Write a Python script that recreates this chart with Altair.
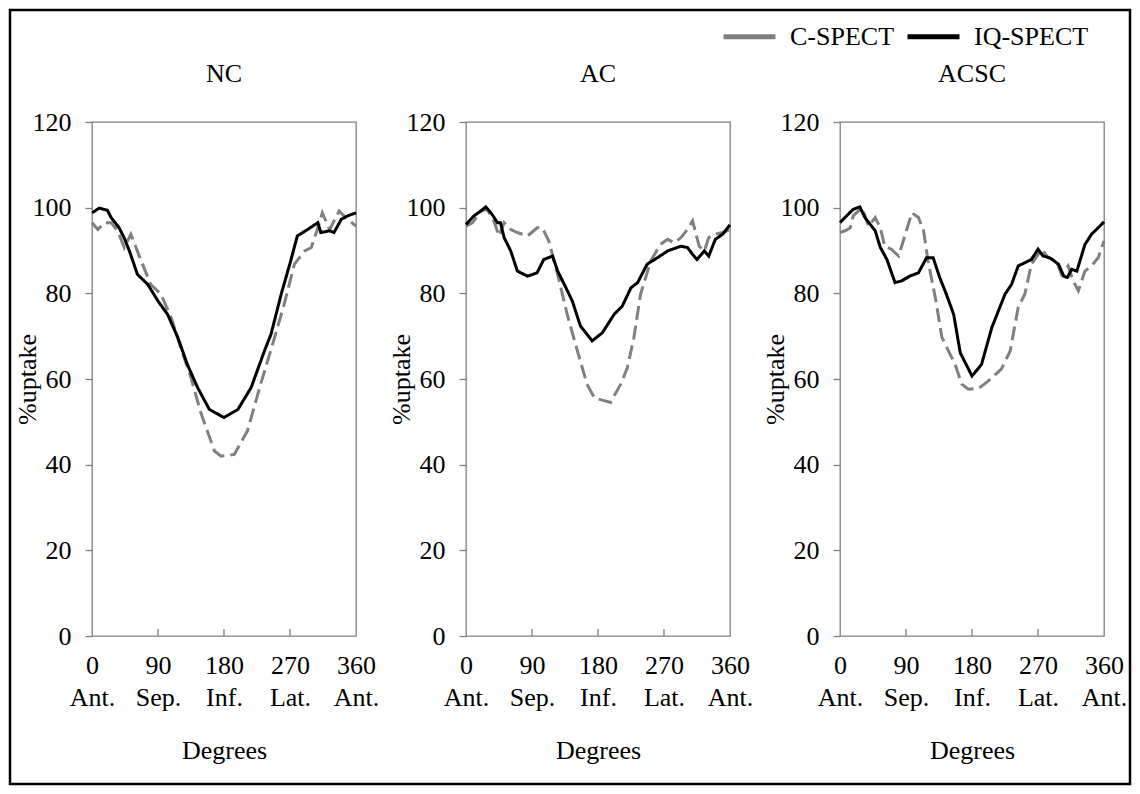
import json
import altair as alt
import pandas as pd

FONT = "Liberation Serif"
series_names = ["C-SPECT", "IQ-SPECT"]
series_colors = ["#808080", "#000000"]
panel_names = ["NC", "AC", "ACSC"]
x_ticks = [0, 90, 180, 270, 360]
x_regions = ["Ant.", "Sep.", "Inf.", "Lat.", "Ant."]
y_ticks = [0, 20, 40, 60, 80, 100, 120]
inner_ticks = [90, 180, 270]

# NC
nc_iq_deg = [0, 10, 21, 26, 37, 44, 51, 62, 76, 90, 103, 117, 130, 144, 160, 180, 199, 217, 235, 244, 258, 271, 280, 294, 308, 312, 324, 330, 340, 349, 360]
nc_iq_val = [98.8, 99.9, 99.4, 97.7, 95.3, 92.9, 89.9, 84.4, 82.1, 78.2, 75.1, 69.7, 63.4, 58.0, 52.9, 51.0, 52.9, 58.0, 66.5, 70.4, 79.8, 87.6, 93.4, 94.9, 96.5, 94.2, 94.6, 94.2, 97.3, 98.1, 98.8]
nc_c_deg = [0, 8, 17, 26, 35, 44, 53, 67, 80, 94, 108, 121, 135, 149, 167, 176, 194, 212, 230, 249, 262, 276, 290, 299, 308, 314, 324, 330, 337, 346, 360]
nc_c_val = [96.5, 94.9, 96.5, 96.5, 94.6, 90.7, 93.8, 87.6, 82.1, 79.8, 74.3, 67.3, 60.3, 51.8, 43.2, 42.0, 42.4, 47.9, 58.8, 69.7, 77.4, 86.8, 89.9, 90.7, 95.3, 98.8, 94.9, 96.9, 99.2, 97.7, 95.7]

# AC
ac_iq_deg = [0, 11, 20, 27, 34, 43, 47, 52, 61, 70, 84, 97, 106, 118, 125, 134, 145, 156, 172, 186, 202, 213, 225, 234, 247, 261, 275, 293, 302, 309, 315, 325, 331, 340, 350, 360]
ac_iq_val = [96.1, 98.1, 99.2, 100.2, 98.8, 96.5, 96.5, 93.0, 89.9, 85.2, 84.0, 84.8, 87.9, 88.7, 85.2, 82.1, 78.2, 72.4, 68.9, 70.8, 75.1, 77.0, 81.3, 82.5, 86.8, 88.3, 89.9, 91.0, 90.7, 89.1, 87.9, 89.9, 88.7, 92.6, 93.8, 96.0]
ac_c_deg = [0, 9, 20, 29, 38, 45, 52, 61, 70, 84, 97, 104, 113, 125, 138, 152, 165, 175, 197, 211, 220, 229, 238, 252, 265, 275, 284, 293, 302, 309, 318, 325, 331, 340, 350, 360]
ac_c_val = [95.7, 96.5, 99.2, 99.6, 96.9, 93.4, 96.5, 94.9, 94.2, 93.4, 95.3, 95.3, 92.2, 84.4, 75.1, 66.5, 58.8, 55.6, 54.5, 58.8, 62.6, 69.7, 79.8, 87.6, 91.4, 92.6, 91.8, 93.0, 94.9, 96.9, 91.0, 89.9, 93.0, 93.8, 94.2, 94.9]

# ACSC
acsc_iq_deg = [0, 9, 18, 27, 34, 43, 48, 55, 64, 75, 84, 95, 107, 118, 127, 136, 145, 155, 164, 180, 193, 207, 225, 234, 243, 261, 270, 277, 286, 298, 305, 310, 316, 323, 334, 343, 352, 360]
acsc_iq_val = [96.5, 98.1, 99.6, 100.2, 97.7, 95.7, 94.6, 90.7, 87.9, 82.5, 82.9, 84.0, 84.8, 88.3, 88.3, 83.7, 79.8, 75.1, 66.1, 60.7, 63.4, 72.0, 79.8, 82.1, 86.4, 87.9, 90.3, 88.7, 88.3, 86.8, 84.0, 83.7, 85.6, 85.2, 91.4, 93.8, 95.3, 96.7]
acsc_c_deg = [0, 7, 14, 18, 30, 39, 48, 55, 61, 70, 80, 89, 98, 107, 114, 120, 130, 139, 148, 157, 166, 175, 189, 202, 220, 232, 243, 252, 261, 275, 284, 295, 302, 311, 318, 325, 334, 343, 352, 360]
acsc_c_val = [94.2, 94.6, 95.3, 98.1, 100.0, 95.7, 97.7, 95.3, 91.0, 90.3, 88.7, 93.8, 98.8, 97.7, 94.6, 87.6, 79.0, 69.7, 66.5, 63.4, 58.8, 57.6, 57.8, 59.5, 62.3, 66.5, 76.7, 79.8, 86.8, 90.3, 88.3, 87.6, 84.4, 86.4, 82.9, 80.6, 85.2, 86.4, 88.3, 92.2]

curves = {
    ("NC", "C-SPECT"): (nc_c_deg, nc_c_val),
    ("NC", "IQ-SPECT"): (nc_iq_deg, nc_iq_val),
    ("AC", "C-SPECT"): (ac_c_deg, ac_c_val),
    ("AC", "IQ-SPECT"): (ac_iq_deg, ac_iq_val),
    ("ACSC", "C-SPECT"): (acsc_c_deg, acsc_c_val),
    ("ACSC", "IQ-SPECT"): (acsc_iq_deg, acsc_iq_val),
}
rows = []
for (p, s), (ds, vs) in curves.items():
    for d, v in zip(ds, vs):
        rows.append({"panel": p, "series": s, "style": s + " line", "deg": d, "val": v})
df = pd.DataFrame(rows)

W, H = 264, 514
label_expr = "[datum.label, " + json.dumps(x_regions) + "[round(datum.value / 90)]]"

frame = alt.Chart(pd.DataFrame({"a": [0]})).mark_rect(
    filled=False, stroke="black", strokeWidth=2.5
).encode(
    x=alt.value(-82), x2=alt.value(1038), y=alt.value(-112), y2=alt.value(662)
)


def panel(name, with_frame=False):
    d = df[df.panel == name]
    lines = alt.Chart(d).mark_line(strokeWidth=3).encode(
        x=alt.X("deg:Q", scale=alt.Scale(domain=[0, 360], nice=False),
                axis=alt.Axis(values=x_ticks, title="Degrees", labelExpr=label_expr,
                              ticks=False, domain=False, grid=False, labelFlush=False,
                              labelOverlap=False, labelPadding=16, labelLineHeight=32,
                              titlePadding=27)),
        y=alt.Y("val:Q", scale=alt.Scale(domain=[0, 120], nice=False),
                axis=alt.Axis(values=y_ticks, title="%uptake", tickSize=7, tickWidth=1.3,
                              domain=False, grid=False, labelFlush=False, labelOverlap=False,
                              labelPadding=14, titlePadding=-8)),
        color=alt.Color("series:N", scale=alt.Scale(domain=series_names, range=series_colors),
                        legend=alt.Legend(orient="none", legendX=629, legendY=-114,
                                          direction="horizontal", title=None,
                                          symbolType="stroke", symbolSize=2700,
                                          symbolStrokeWidth=5, labelFont=FONT,
                                          labelFontSize=26, labelColor="black",
                                          labelOffset=12, columnPadding=2, padding=0)),
        strokeDash=alt.StrokeDash("style:N",
                                  scale=alt.Scale(domain=[s + " line" for s in series_names],
                                                  range=[[14, 6], [1, 0]]),
                                  legend=None),
    )
    ticks = alt.Chart(pd.DataFrame({"deg": inner_ticks})).mark_rule(
        color="#808080", strokeWidth=1.3
    ).encode(x="deg:Q", y=alt.value(H), y2=alt.value(H - 7))
    title = alt.Chart(pd.DataFrame({"name": [name]})).mark_text(
        font=FONT, fontSize=26, color="black", baseline="middle", align="center"
    ).encode(text="name:N", x=alt.value(W / 2), y=alt.value(-48))
    layers = [lines, ticks, title]
    if with_frame:
        layers.append(frame)
    return alt.layer(*layers).properties(width=W, height=H)


p1 = panel("NC", with_frame=True)
p2 = panel("AC")
p3 = panel("ACSC")

chart = alt.hconcat(p1, p2, p3, spacing=110, bounds="flush").properties(
    padding=0
).configure_axis(
    labelFont=FONT, titleFont=FONT, labelFontSize=26, titleFontSize=26,
    titleFontWeight="normal", labelColor="black", titleColor="black",
    tickColor="#808080",
).configure_view(stroke="#808080", strokeWidth=1.3)

chart.save("out.html", embed_options={"renderer": "svg", "actions": False})
